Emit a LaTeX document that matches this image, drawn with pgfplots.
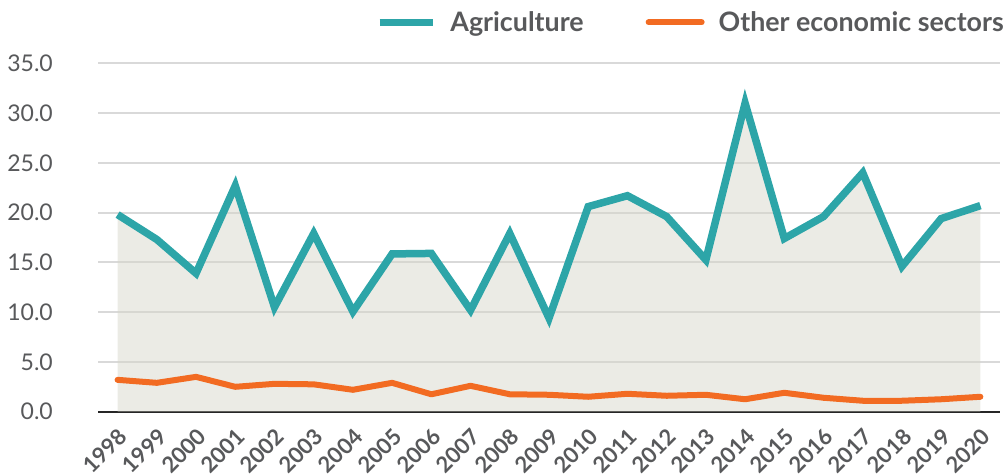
\documentclass[border=0pt]{standalone}
\usepackage{fontspec}
\setmainfont{Lato}
\usepackage{pgfplots}
\pgfplotsset{compat=1.18}
\definecolor{agri}{HTML}{2DA5A8}
\definecolor{oth}{HTML}{F26B22}
\definecolor{fillc}{HTML}{D7D7CB}
\definecolor{txt}{HTML}{58595B}
\definecolor{grd}{HTML}{D9D9D9}
\begin{document}
\begin{tikzpicture}
\useasboundingbox (0bp,0bp) rectangle (1003bp,475bp);
\begin{axis}[
  at={(98bp,63.3bp)}, anchor=south west,
  scale only axis, width=902bp, height=348.4bp,
  xmin=1997.5, xmax=2020.5, ymin=0, ymax=35,
  xtick={1998,...,2020}, ytick={0,5,...,35},
  axis x line=bottom, axis y line=left,
  y axis line style={draw=none},
  x axis line style={-, line width=2.2bp, color=black!85},
  major tick length=0pt,
  ymajorgrids, grid style={grd, line width=2.2bp},
  /pgf/number format/assume math mode=true,
  x tick label style={/pgf/number format/1000 sep={}, anchor=center, xshift=-12.5bp, yshift=-39bp, rotate=45,
     font=\fontsize{22bp}{24bp}\selectfont\bfseries, text=txt, inner sep=0pt},
  y tick label style={/pgf/number format/.cd, fixed, fixed zerofill, precision=1, /tikz/.cd,
     font=\fontsize{23bp}{26bp}\selectfont, text=txt, inner sep=0pt, anchor=east, xshift=-45bp},
  legend columns=2,
  legend style={draw=none, fill=none, at={(1.0044,1.1176)}, anchor=east, inner sep=0pt,
     font=\fontsize{26.8bp}{30bp}\selectfont\bfseries, text=txt,
     nodes={inner sep=0pt},
     /tikz/every even column/.append style={column sep=62bp},
     /tikz/every odd column/.append style={column sep=14bp}},
  legend image code/.code={\draw[#1] (0bp,0bp) -- (53bp,0bp);},
]
\addplot[fill=fillc, fill opacity=0.5, draw=none, forget plot] coordinates {
(1998,19.8) (1999,17.3) (2000,13.9) (2001,22.7) (2002,10.5) (2003,17.9) (2004,10.05)
(2005,15.85) (2006,15.9) (2007,10.2) (2008,17.9) (2009,9.4) (2010,20.6) (2011,21.7)
(2012,19.6) (2013,15.25) (2014,31.0) (2015,17.4) (2016,19.6) (2017,24.0) (2018,14.6)
(2019,19.4) (2020,20.7)} \closedcycle;
\addplot[agri, line width=7.5bp, line join=miter] coordinates {
(1998,19.8) (1999,17.3) (2000,13.9) (2001,22.7) (2002,10.5) (2003,17.9) (2004,10.05)
(2005,15.85) (2006,15.9) (2007,10.2) (2008,17.9) (2009,9.4) (2010,20.6) (2011,21.7)
(2012,19.6) (2013,15.25) (2014,31.0) (2015,17.4) (2016,19.6) (2017,24.0) (2018,14.6)
(2019,19.4) (2020,20.7)};
\addlegendentry{Agriculture}
\addplot[oth, line width=6bp, line cap=round, line join=round] coordinates {
(1998,3.2) (1999,2.9) (2000,3.5) (2001,2.5) (2002,2.8) (2003,2.75) (2004,2.2)
(2005,2.9) (2006,1.75) (2007,2.6) (2008,1.75) (2009,1.7) (2010,1.5) (2011,1.8)
(2012,1.6) (2013,1.7) (2014,1.25) (2015,1.9) (2016,1.4) (2017,1.1) (2018,1.1)
(2019,1.25) (2020,1.5)};
\addlegendentry{Other economic sectors}
\end{axis}
\end{tikzpicture}
\end{document}
